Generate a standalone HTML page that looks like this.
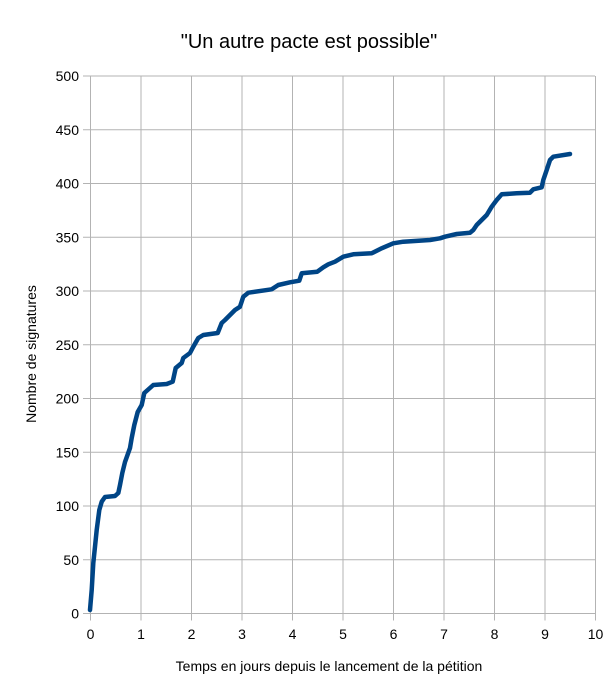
<!DOCTYPE html>
<html>
<head>
<meta charset="utf-8">
<style>
  html, body { margin: 0; padding: 0; background: #ffffff; }
  svg { display: block; }
  text { font-family: "Liberation Sans", sans-serif; fill: #000; }
</style>
</head>
<body>
<svg width="616" height="697" viewBox="0 0 616 697" xmlns="http://www.w3.org/2000/svg">
  <rect x="0" y="0" width="616" height="697" fill="#ffffff"/>
  <text x="309" y="48" font-size="20" text-anchor="middle">"Un autre pacte est possible"</text>

  <g stroke="#b3b3b3" stroke-width="1" fill="none">
    <!-- horizontal gridlines (with outward ticks) -->
    <line x1="83" y1="613.5" x2="595" y2="613.5"/>
    <line x1="83" y1="559.75" x2="595" y2="559.75"/>
    <line x1="83" y1="506" x2="595" y2="506"/>
    <line x1="83" y1="452.25" x2="595" y2="452.25"/>
    <line x1="83" y1="398.5" x2="595" y2="398.5"/>
    <line x1="83" y1="344.75" x2="595" y2="344.75"/>
    <line x1="83" y1="291" x2="595" y2="291"/>
    <line x1="83" y1="237.25" x2="595" y2="237.25"/>
    <line x1="83" y1="183.5" x2="595" y2="183.5"/>
    <line x1="83" y1="129.75" x2="595" y2="129.75"/>
    <line x1="83" y1="76" x2="595" y2="76"/>
    <!-- vertical gridlines -->
    <line x1="90.5" y1="76" x2="90.5" y2="620.5"/>
    <line x1="141" y1="76" x2="141" y2="620.5"/>
    <line x1="191.5" y1="76" x2="191.5" y2="620.5"/>
    <line x1="242" y1="76" x2="242" y2="620.5"/>
    <line x1="292.5" y1="76" x2="292.5" y2="620.5"/>
    <line x1="343" y1="76" x2="343" y2="620.5"/>
    <line x1="393.5" y1="76" x2="393.5" y2="620.5"/>
    <line x1="444" y1="76" x2="444" y2="620.5"/>
    <line x1="494.5" y1="76" x2="494.5" y2="620.5"/>
    <line x1="545" y1="76" x2="545" y2="620.5"/>
    <line x1="595.5" y1="76" x2="595.5" y2="620.5"/>
  </g>

  <!-- y tick labels -->
  <g font-size="14" text-anchor="end">
    <text x="79" y="618.5">0</text>
    <text x="79" y="564.75">50</text>
    <text x="79" y="511">100</text>
    <text x="79" y="457.25">150</text>
    <text x="79" y="403.5">200</text>
    <text x="79" y="349.75">250</text>
    <text x="79" y="296">300</text>
    <text x="79" y="242.25">350</text>
    <text x="79" y="188.5">400</text>
    <text x="79" y="134.75">450</text>
    <text x="79" y="81">500</text>
  </g>

  <!-- x tick labels -->
  <g font-size="14" text-anchor="middle">
    <text x="90.5" y="639">0</text>
    <text x="141" y="639">1</text>
    <text x="191.5" y="639">2</text>
    <text x="242" y="639">3</text>
    <text x="292.5" y="639">4</text>
    <text x="343" y="639">5</text>
    <text x="393.5" y="639">6</text>
    <text x="444" y="639">7</text>
    <text x="494.5" y="639">8</text>
    <text x="545" y="639">9</text>
    <text x="595.5" y="639">10</text>
  </g>

  <text x="329" y="671" font-size="14" text-anchor="middle">Temps en jours depuis le lancement de la pétition</text>
  <text x="0" y="0" font-size="14" text-anchor="middle" transform="translate(36,354) rotate(-90)">Nombre de signatures</text>

  <polyline fill="none" stroke="#004586" stroke-width="4.5" stroke-linejoin="round" stroke-linecap="round"
    points="90,610 91.7,590 93.3,563 95,546.7 96.7,530 99.3,510 101.7,501.7 105,497 115,496 118.3,493 120,485 122.3,473 125,462 130,448 131.7,438 134.3,425 137.7,412 141.7,405 144.3,393 153.3,385 166.7,384 172.7,381.7 175.7,368 181.7,363 183.3,358 190,353 193.3,346.7 198.3,338 203.3,335 217.7,333 221.7,323 225,320 230,315 235,310 240,306.7 243.3,296.7 248.3,292.7 271.7,289.3 278.3,285 290,282.3 299.3,280.7 301.7,273.3 317.3,271.7 323.3,267.3 328.3,264.3 335,261.7 343.3,256.7 353.3,254.3 371.7,253.3 381.7,248.3 393.3,243.3 403.3,241.7 430,240 440,238.3 445,236.7 456.7,234 470,232.7 473.3,230 476.7,225 481.7,220 486.7,215 491.7,206.7 496.7,200 501.7,194.3 516.7,193.3 530,192.7 533.3,189.3 541.7,187.3 543.3,180 546.7,170 550,160 553.3,156.7 570,154"/>
</svg>
</body>
</html>
